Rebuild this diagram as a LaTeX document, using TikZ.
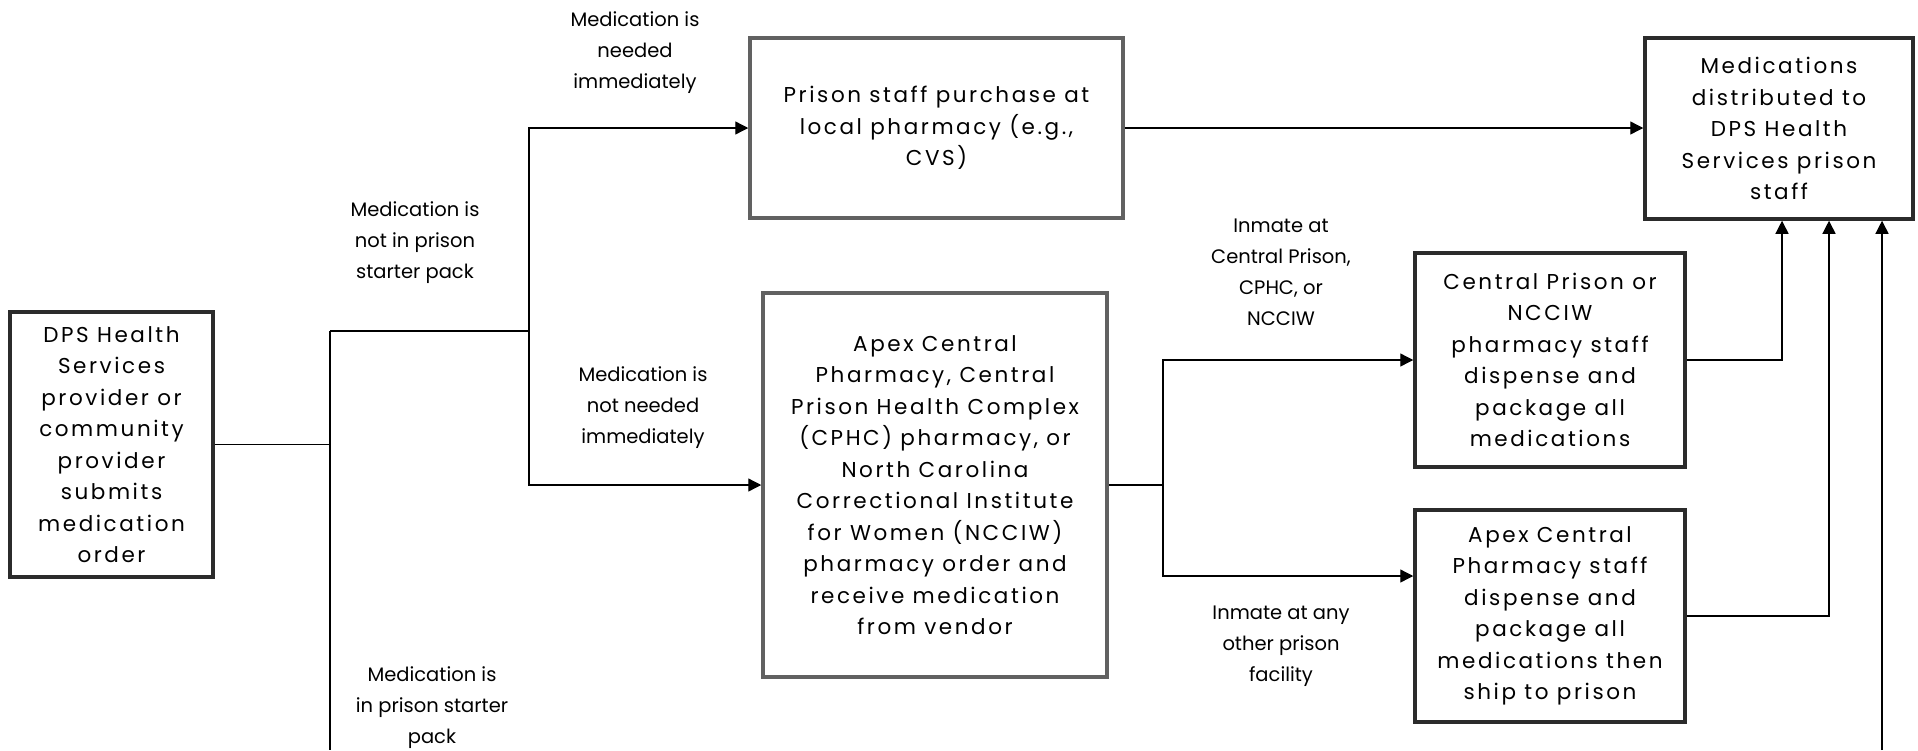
\documentclass[tikz,border=0pt]{standalone}
\usepackage{fontspec}
\setmainfont{Poppins}
\newfontfamily\boxfont[LetterSpace=12]{Poppins}
\newfontfamily\labfont{Poppins}
\usetikzlibrary{arrows.meta}
\begin{document}
\begin{tikzpicture}[x=1pt,y=-1pt,
  darkbox/.style={draw=black!83, line width=3.5pt, fill=white, align=center, inner sep=0pt,
    font=\boxfont\fontsize{21.5}{31.5}\selectfont},
  graybox/.style={darkbox, draw=black!62},
  lab/.style={align=center, font=\labfont\fontsize{19.5}{31}\selectfont},
  conn/.style={line width=1.3pt, draw=black},
  arr/.style={conn, -{Triangle[length=13pt,width=13pt]}}]
\useasboundingbox (0,0) rectangle (1918,750);

% boxes
\node[darkbox, minimum width=203pt, minimum height=265pt] (src) at (111.5,444.5)
  {DPS Health\\Services\\provider or\\community\\provider\\submits\\medication\\order};
\node[graybox, minimum width=373pt, minimum height=180pt] (purchase) at (936.5,128)
  {Prison staff purchase at\\local pharmacy (e.g.,\\CVS)};
\node[graybox, minimum width=344pt, minimum height=384pt] (apex) at (935,485)
  {Apex Central\\Pharmacy, Central\\Prison Health Complex\\(CPHC) pharmacy, or\\North Carolina\\Correctional Institute\\for Women (NCCIW)\\pharmacy order and\\receive medication\\from vendor};
\node[darkbox, minimum width=268pt, minimum height=181pt] (meds) at (1779,128.5)
  {Medications\\distributed to\\DPS Health\\Services prison\\staff};
\node[darkbox, minimum width=270pt, minimum height=214pt] (cp) at (1550,360)
  {Central Prison or\\NCCIW\\pharmacy staff\\dispense and\\package all\\medications};
\node[darkbox, minimum width=270pt, minimum height=212pt] (as) at (1550,616)
  {Apex Central\\Pharmacy staff\\dispense and\\package all\\medications then\\ship to prison};

% labels
\node[lab] (l1) at (635,53) {Medication is\\needed\\immediately};
\node[lab] (l2) at (415,243) {Medication is\\not in prison\\starter pack};
\node[lab] (l3) at (643,408) {Medication is\\not needed\\immediately};
\node[lab] (l4) at (432,708) {Medication is\\in prison starter\\pack};
\node[lab] (l5) at (1281,272) {Inmate at\\Central Prison,\\CPHC, or\\NCCIW};
\node[lab] (l6) at (1281,646) {Inmate at any\\other prison\\facility};

% connectors
\coordinate (top1) at (330,331);
\coordinate (bot1) at (330,750);
\coordinate (j2) at (529,331);
\coordinate (j3) at (1163,485);
\coordinate (bot2) at (1882,750);

\draw[conn] (src.east) -- (src.east -| top1);
\draw[conn] (top1) -- (bot1);
\draw[conn] (top1) -- (j2);
\draw[arr] (j2) |- (purchase.west);
\draw[arr] (j2) |- (apex.west);
\draw[arr] (purchase.east) -- (purchase.east -| meds.west);
\draw[conn] (apex.east) -- (j3);
\draw[arr] (j3) |- (cp.west);
\draw[arr] (j3) |- ([yshift=40pt]as.west);
\draw[arr] (cp.east) -| ([xshift=3pt]meds.south);
\draw[arr] (as.east) -| ([xshift=50pt]meds.south);
\draw[arr] (bot2) -- (bot2 |- meds.south);
\end{tikzpicture}
\end{document}
